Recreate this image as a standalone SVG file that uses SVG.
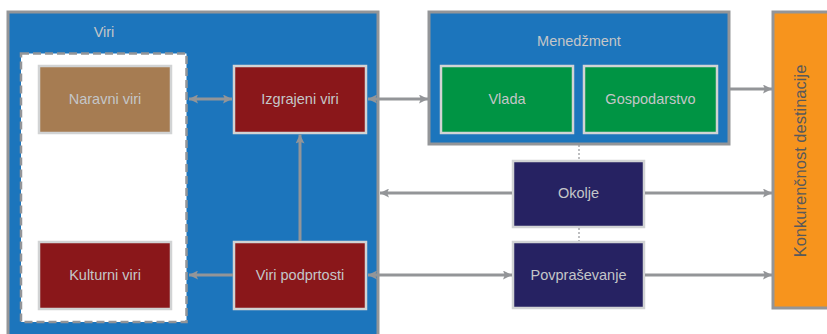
<svg xmlns="http://www.w3.org/2000/svg" width="827" height="334" viewBox="0 0 827 334">
  <defs>
    <marker id="ah" viewBox="0 0 10 10" refX="10" refY="5" markerWidth="10" markerHeight="9" markerUnits="userSpaceOnUse" orient="auto-start-reverse">
      <path d="M0,0 L10,5 L0,10 L2,5 Z" fill="#939598"/>
    </marker>
    <style>
      .frame { stroke: #939598; stroke-width: 3; }
      .inner { stroke: #d1d3d4; stroke-width: 2.5; }
      .lbl { font-family: "Liberation Sans", Arial, sans-serif; font-size: 14.5px; fill: #c4c6c8; text-anchor: middle; }
      .conn { stroke: #939598; stroke-width: 3; fill: none; }
      .dot { stroke: #939598; stroke-width: 1.2; stroke-dasharray: 2 2; fill: none; }
    </style>
  </defs>

  <rect width="827" height="334" fill="#ffffff"/>

  <!-- resources group -->
  <g id="viri">
    <rect x="8" y="12" width="370" height="330" fill="#1c75bc" class="frame"/>
    <text x="104" y="37" class="lbl">Viri</text>
    <rect x="21" y="53.5" width="165.5" height="268.5" fill="#ffffff" stroke="#939598" stroke-width="2.5" stroke-dasharray="8 4"/>
  </g>

  <g id="naravni-viri">
    <rect x="39" y="66" width="132" height="67" fill="#a67c52" class="inner"/>
    <text x="105" y="104" class="lbl">Naravni viri</text>
  </g>

  <g id="kulturni-viri">
    <rect x="39" y="242" width="132" height="67" fill="#8a171a" class="inner"/>
    <text x="105" y="280" class="lbl">Kulturni viri</text>
  </g>

  <g id="izgrajeni-viri">
    <rect x="234" y="66" width="132" height="67" fill="#8a171a" class="inner"/>
    <text x="300" y="104" class="lbl">Izgrajeni viri</text>
  </g>

  <g id="viri-podprtosti">
    <rect x="234" y="242" width="132" height="67" fill="#8a171a" class="inner"/>
    <text x="300" y="280" class="lbl">Viri podprtosti</text>
  </g>

  <!-- management group -->
  <g id="menedzment">
    <rect x="429" y="12" width="300" height="132" fill="#1c75bc" class="frame"/>
    <text x="579" y="46" class="lbl">Menedžment</text>
  </g>

  <g id="vlada">
    <rect x="441" y="66" width="132" height="67" fill="#009444" class="inner"/>
    <text x="507" y="104" class="lbl">Vlada</text>
  </g>

  <g id="gospodarstvo">
    <rect x="584" y="66" width="133" height="67" fill="#009444" class="inner"/>
    <text x="650.5" y="104" class="lbl">Gospodarstvo</text>
  </g>

  <g id="okolje">
    <rect x="513" y="161" width="131" height="66" fill="#262262" class="inner"/>
    <text x="578.5" y="198" class="lbl">Okolje</text>
  </g>

  <g id="povprasevanje">
    <rect x="513" y="242" width="131" height="66" fill="#262262" class="inner"/>
    <text x="578.5" y="280" class="lbl">Povpraševanje</text>
  </g>

  <g id="konkurencnost">
    <rect x="773" y="12" width="60" height="296" fill="#f7941d" class="frame"/>
    <text transform="translate(806,161) rotate(-90)" x="0" y="0" font-family="'Liberation Sans', Arial, sans-serif" font-size="16.5px" fill="#58595b" text-anchor="middle">Konkurenčnost destinacije</text>
  </g>

  <!-- connectors -->
  <g id="connectors">
    <line x1="189" y1="99" x2="232" y2="99" class="conn" marker-start="url(#ah)" marker-end="url(#ah)"/>
    <line x1="368" y1="99" x2="428" y2="99" class="conn" marker-start="url(#ah)" marker-end="url(#ah)"/>
    <line x1="300" y1="241" x2="300" y2="134.5" class="conn" marker-end="url(#ah)"/>
    <line x1="233" y1="275" x2="189" y2="275" class="conn" marker-end="url(#ah)"/>
    <line x1="368" y1="275" x2="512" y2="275" class="conn" marker-start="url(#ah)" marker-end="url(#ah)"/>
    <line x1="512" y1="193" x2="380" y2="193" class="conn" marker-end="url(#ah)"/>
    <line x1="645" y1="193" x2="772" y2="193" class="conn" marker-end="url(#ah)"/>
    <line x1="645" y1="275" x2="772" y2="275" class="conn" marker-end="url(#ah)"/>
    <line x1="730" y1="89" x2="772" y2="89" class="conn" marker-end="url(#ah)"/>
    <line x1="579" y1="145" x2="579" y2="160" class="dot"/>
    <line x1="579" y1="228" x2="579" y2="241" class="dot"/>
  </g>
</svg>
